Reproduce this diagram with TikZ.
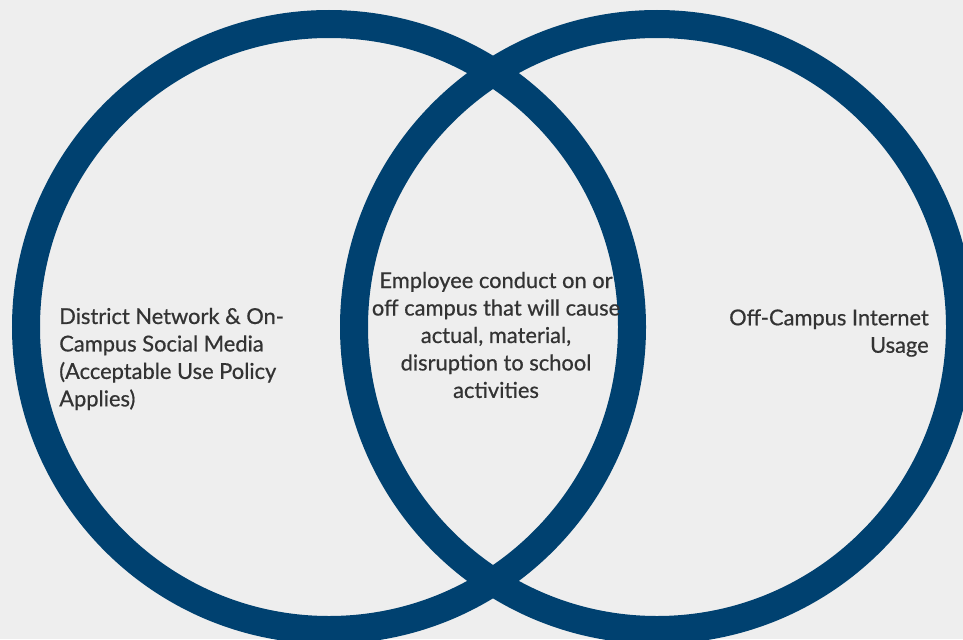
\documentclass[tikz,border=0pt]{standalone}
\usepackage{fontspec}
\setmainfont{Lato}
\newfontfamily\lblfont{Lato}[FakeBold=0.6]
\definecolor{ringblue}{RGB}{0,65,112}
\definecolor{bggray}{RGB}{238,238,238}
\definecolor{txtgray}{RGB}{51,51,51}
\tikzset{
  ring/.style={draw=ringblue,line width=21pt},
  lbl/.style={inner sep=0pt,text=txtgray,font=\lblfont\fontsize{16.4pt}{20.6pt}\selectfont}
}
\begin{document}
\begin{tikzpicture}[x=0.75pt,y=-0.75pt]
\useasboundingbox (0,0) rectangle (963,639);
\fill[bggray] (0,0) rectangle (963,639);
\begin{scope}
\clip (0,0) rectangle (963,639);
\draw[ring] (329,327) circle[radius=303*0.75pt];
\draw[ring] (657,327) circle[radius=303*0.75pt];
\end{scope}
\node[lbl,align=left,anchor=west] (left) at (59,359) {District Network \& On-\\Campus Social Media\\(Acceptable Use Policy\\Applies)};
\node[lbl,align=center] (mid) at (496,335) {Employee conduct on or\\off campus that will cause\\actual, material,\\disruption to school\\activities};
\node[lbl,align=right,anchor=east] (right) at (929,333) {Off-Campus Internet\\Usage};
\end{tikzpicture}
\end{document}
